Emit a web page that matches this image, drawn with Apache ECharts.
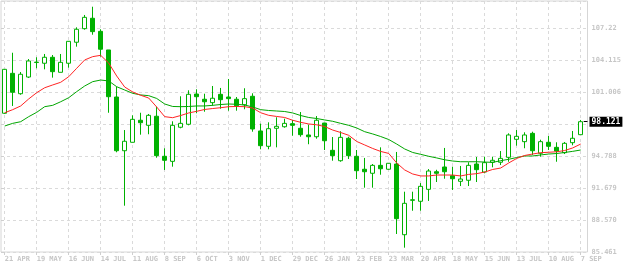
<!DOCTYPE html>
<html><head><meta charset="utf-8">
<script src="https://cdn.jsdelivr.net/npm/echarts@6/dist/echarts.min.js"></script>
<style>html,body{margin:0;padding:0;background:#fff;}#c{width:624px;height:266px;}</style>
</head><body><div id="c"></div>
<script>
const categories = ['21 APR','28 APR','5 MAY','12 MAY','19 MAY','26 MAY','2 JUN','9 JUN','16 JUN','23 JUN','30 JUN','7 JUL','14 JUL','21 JUL','28 JUL','4 AUG','11 AUG','18 AUG','25 AUG','1 SEP','8 SEP','15 SEP','22 SEP','29 SEP','6 OCT','13 OCT','20 OCT','27 OCT','3 NOV','10 NOV','17 NOV','24 NOV','1 DEC','8 DEC','15 DEC','22 DEC','29 DEC','5 JAN','12 JAN','19 JAN','26 JAN','2 FEB','9 FEB','16 FEB','23 FEB','2 MAR','9 MAR','16 MAR','23 MAR','30 MAR','6 APR','13 APR','20 APR','27 APR','4 MAY','11 MAY','18 MAY','25 MAY','1 JUN','8 JUN','15 JUN','22 JUN','29 JUN','6 JUL','13 JUL','20 JUL','27 JUL','3 AUG','10 AUG','17 AUG','24 AUG','31 AUG','7 SEP'];

// [open, close, low, high]
const candles = [
[98.94,103.21,98.87,103.24],[102.82,100.98,99.65,104.82],[100.84,102.73,100.74,102.95],[102.46,104.02,102.37,104.21],
[103.87,103.91,103.31,104.38],[103.80,104.38,103.21,104.70],[104.38,102.98,102.40,104.60],[102.92,103.89,102.92,104.70],
[103.80,105.93,103.37,105.95],[105.84,107.10,105.41,107.29],[107.16,108.26,107.06,108.49],[108.17,106.87,106.57,109.29],
[106.90,105.16,104.44,107.10],[105.09,100.55,98.99,105.09],[100.52,95.30,95.15,101.52],[95.30,96.22,89.96,97.31],
[96.12,98.35,96.10,98.74],[98.26,98.02,96.86,98.99],[97.77,98.74,96.90,98.87],[98.65,94.82,94.62,99.58],
[94.76,94.37,93.43,95.54],[94.27,97.77,93.75,98.16],[97.58,97.96,97.48,100.59],[97.87,100.78,97.77,101.17],
[100.81,100.55,98.94,101.27],[100.30,100.06,99.09,100.84],[99.97,100.40,99.67,101.59],[100.78,100.26,99.38,101.40],
[100.52,100.36,99.19,102.27],[100.30,99.67,99.19,100.52],[99.77,100.36,99.33,101.37],[100.59,97.41,97.15,100.88],
[97.22,95.79,95.44,97.93],[95.73,97.44,95.44,98.06],[97.48,97.67,95.63,98.55],[97.63,97.96,97.54,98.41],
[97.93,97.77,96.76,98.29],[97.48,96.86,96.66,99.06],[96.83,96.66,95.93,97.83],[96.66,98.26,96.47,98.67],
[97.99,96.27,95.37,98.00],[95.34,94.82,94.33,96.63],[94.33,96.60,94.23,97.19],[96.51,94.82,94.50,96.66],
[94.76,93.36,92.55,95.37],[93.50,93.26,91.71,94.60],[93.11,93.88,91.71,94.01],[93.88,93.55,92.97,95.63],
[93.50,94.08,93.45,94.10],[94.01,88.70,87.21,95.18],[87.14,90.19,85.88,91.32],[90.48,90.54,89.47,91.32],
[90.39,91.84,89.47,92.16],[91.55,93.33,90.42,93.52],[93.26,93.11,92.26,93.45],[93.72,93.26,92.58,95.57],
[92.87,92.58,91.49,93.75],[92.33,92.55,91.87,93.82],[92.43,93.88,91.87,94.18],[94.01,93.46,92.26,94.69],
[93.23,94.14,93.11,94.72],[94.18,94.37,93.69,94.72],[94.18,94.56,93.91,95.27],[94.66,96.83,94.23,96.99],
[96.41,96.70,95.79,97.31],[96.18,96.83,95.54,97.09],[96.99,95.30,94.89,97.15],[95.05,96.18,94.72,96.37],
[96.12,95.73,95.37,96.73],[95.63,95.27,94.23,96.12],[95.11,96.02,94.98,96.15],[96.08,96.51,95.83,97.22],
[96.86,98.121,96.86,98.29]
];

const maFast = [98.99,99.29,99.65,100.33,100.94,101.42,101.69,101.95,102.49,103.31,104.12,104.44,104.57,103.82,102.56,101.49,
101.01,100.69,100.42,99.55,98.61,98.51,98.72,98.97,99.13,99.31,99.40,99.48,99.58,99.60,99.58,99.45,98.99,98.74,98.63,98.53,
98.26,98.06,97.90,97.82,97.65,97.31,97.07,96.80,96.20,95.86,95.52,95.23,95.04,94.11,93.43,93.04,92.85,92.85,92.94,92.94,
92.94,92.85,93.00,93.07,93.23,93.48,93.62,94.11,94.55,94.84,94.98,95.11,95.15,95.20,95.32,95.57,95.95];

const maSlow = [97.70,97.96,98.12,98.61,99.03,99.58,99.71,100.06,100.45,101.04,101.59,102.01,102.17,102.08,101.52,101.20,
100.88,100.72,100.65,100.38,99.84,99.60,99.58,99.60,99.65,99.65,99.71,99.79,99.84,99.81,99.74,99.55,99.29,99.21,99.16,99.11,
98.97,98.72,98.53,98.43,98.29,98.16,97.96,97.77,97.51,97.15,96.93,96.68,96.39,95.95,95.47,95.13,94.95,94.76,94.60,94.42,
94.30,94.23,94.23,94.23,94.20,94.17,94.33,94.47,94.64,94.79,94.79,94.89,94.98,95.03,95.13,95.24,95.37];

const yTickLabels = ['85.461','88.570','91.679','94.788','97.897','101.006','104.115','107.22'];
const yMin = 85.461, yStep = 3.109, yMax = 109.847;
const lastClose = candles[candles.length - 1][1];

const GREEN = '#00b100', MAGREEN = '#00a600', RED = '#ff2424', GRID = '#dadada', TXT = '#c6c6c6';
const FONT = 'DejaVu Sans Mono';

const chart = echarts.init(document.getElementById('c'), null, {renderer: 'canvas'});
chart.setOption({
  animation: false,
  backgroundColor: '#fff',
  grid: [
    {left: 1, right: 32, top: 1, bottom: 14, show: true, borderColor: '#d6d6d6', borderWidth: 1, backgroundColor: 'transparent'},
    {left: 4.7, right: 43.3, top: 1, bottom: 14}
  ],
  xAxis: [
    {gridIndex: 0, type: 'value', min: 0, max: 1, show: false},
    {gridIndex: 1, type: 'category', data: categories, boundaryGap: false,
     axisLine: {show: false},
     axisTick: {show: true, interval: 3, length: 3, lineStyle: {color: '#cfcfcf'}},
     axisLabel: {interval: 3, align: 'left', margin: 4, color: TXT, fontSize: 7, fontFamily: FONT, fontWeight: 'bold'},
     splitLine: {show: true, interval: 3, lineStyle: {color: GRID, type: [3, 3], width: 1}}}
  ],
  yAxis: [
    {gridIndex: 0, type: 'value', position: 'right', min: yMin, max: yMax, interval: yStep, scale: true,
     axisLine: {show: false},
     axisTick: {show: true, length: 3, lineStyle: {color: '#cfcfcf'}},
     axisLabel: {margin: 4, color: TXT, fontSize: 7, fontFamily: FONT, fontWeight: 'bold', showMaxLabel: false,
       formatter: v => { const k = Math.round((v - yMin) / yStep); return (k >= 0 && k < yTickLabels.length && Math.abs(v - (yMin + k*yStep)) < 0.01) ? yTickLabels[k] : ''; }},
     splitLine: {show: true, lineStyle: {color: GRID, type: [3, 3], width: 1}}},
    {gridIndex: 1, type: 'value', min: yMin, max: yMax, show: false, splitLine: {show: false}}
  ],
  series: [
    {type: 'line', xAxisIndex: 0, yAxisIndex: 0, data: [[1, lastClose]], showSymbol: false, symbol: 'none',
     lineStyle: {opacity: 0}, silent: true, z: 10,
     markLine: {silent: true, symbol: ['none', 'none'], animation: false,
       lineStyle: {color: '#000', width: 1, type: 'solid'},
       label: {show: true, position: 'end', distance: 2, formatter: String(lastClose), color: '#fff', backgroundColor: '#000',
               fontFamily: FONT, fontWeight: 'bold', fontSize: 8, padding: [1, 2, 1, 2]},
       data: [[{coord: [0.9935, lastClose]}, {coord: [1, lastClose]}]]}},
    {type: 'candlestick', xAxisIndex: 1, yAxisIndex: 1, data: candles, barWidth: 4, z: 2,
     itemStyle: {color: '#ffffff', color0: GREEN, borderColor: GREEN, borderColor0: GREEN, borderColorDoji: GREEN, borderWidth: 1}},
    {type: 'line', xAxisIndex: 1, yAxisIndex: 1, data: maSlow, symbol: 'none', showSymbol: false, z: 3,
     lineStyle: {color: MAGREEN, width: 1}},
    {type: 'line', xAxisIndex: 1, yAxisIndex: 1, data: maFast, symbol: 'none', showSymbol: false, z: 4,
     lineStyle: {color: RED, width: 1}}
  ]
});
</script></body></html>
